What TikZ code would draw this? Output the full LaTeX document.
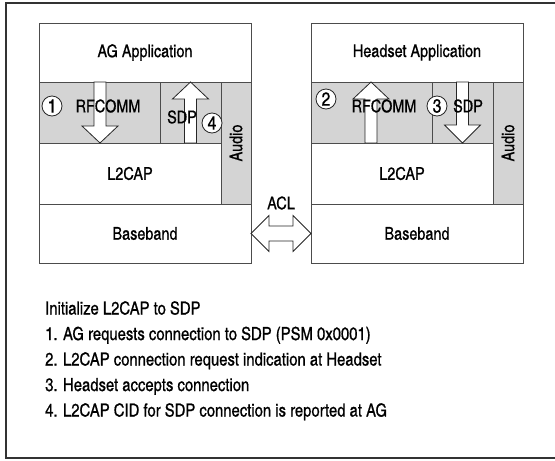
\documentclass[tikz,border=0pt]{standalone}
\usepackage{fontspec}
\setmainfont{texgyreheroscn-regular.otf}[BoldFont=texgyreheroscn-bold.otf, FakeBold=0.7]
\usetikzlibrary{calc}
\tikzset{
  layer/.style={draw=black!70, line width=0.9pt, fill=white, anchor=north west,
    inner sep=0pt, outer sep=0pt, font=\fontsize{17.6}{20}\selectfont},
  shaded/.style={layer, fill=black!17},
  lbl/.style={inner sep=0pt, font=\fontsize{17.6}{20}\selectfont},
  stepnum/.style={circle, draw=black!85, fill=white, line width=0.8pt,
    minimum size=20pt, inner sep=0pt, font=\fontsize{19}{20}\selectfont},
  blockarrow/.style={draw=black!85, fill=white, line width=0.8pt, line join=miter},
  frame/.style={draw=black!80, line width=1.5pt}
}
% x, start, head base, tip
\newcommand{\BlockArrow}[4]{%
  \draw[blockarrow] (#1-6,#2) -- (#1-6,#3) -- (#1-18,#3) -- (#1,#4)
    -- (#1+18,#3) -- (#1+6,#3) -- (#1+6,#2) -- cycle;
}
\begin{document}
\begin{tikzpicture}[x=1pt,y=-1pt]
\useasboundingbox (0,0) rectangle (555,461);
\draw[frame] (560,3) -- (6,3) -- (6,458) -- (560,458);

% AG side
\node[layer, minimum width=212pt, minimum height=59pt] (agapp) at (39,23) {AG Application};
\node[shaded, minimum width=121pt, minimum height=61pt] (agrfcomm) at (39,82) {};
\node[shaded, minimum width=61pt, minimum height=61pt] (agsdp) at (agrfcomm.north east) {};
\node[shaded, minimum width=30pt, minimum height=122pt] (agaudio) at (agsdp.north east) {};
\node[layer, minimum width=182pt, minimum height=61pt] (agl2cap) at (agrfcomm.south west) {L2CAP};
\node[layer, minimum width=212pt, minimum height=59pt] (agbase) at (agl2cap.south west) {Baseband};

% Headset side
\node[layer, minimum width=212pt, minimum height=59pt] (hsapp) at (311,23) {Headset Application};
\node[shaded, minimum width=121pt, minimum height=61pt] (hsrfcomm) at (311,82) {};
\node[shaded, minimum width=61pt, minimum height=61pt] (hssdp) at (hsrfcomm.north east) {};
\node[shaded, minimum width=30pt, minimum height=122pt] (hsaudio) at (hssdp.north east) {};
\node[layer, minimum width=182pt, minimum height=61pt] (hsl2cap) at (hsrfcomm.south west) {L2CAP};
\node[layer, minimum width=212pt, minimum height=59pt] (hsbase) at (hsl2cap.south west) {Baseband};

% flows
\BlockArrow{100}{82}{126}{143}
\BlockArrow{190.5}{143}{99}{82}
\BlockArrow{371}{143}{99}{82}
\BlockArrow{462.5}{82}{125}{143}

\node[lbl] (agrfcommtxt) at (108,106) {RFCOMM};
\node[lbl] (agsdptxt) at (182,117) {SDP};
\node[lbl, rotate=90] (agaudiotxt) at (agaudio.center) {Audio};
\node[lbl] (hsrfcommtxt) at (384,106) {RFCOMM};
\node[lbl] (hssdptxt) at (468,106) {SDP};
\node[lbl, rotate=90] (hsaudiotxt) at (hsaudio.center) {Audio};

\node[stepnum] (c1) at (52,106) {1};
\node[stepnum] (c2) at (326,99) {2};
\node[stepnum] (c3) at (437,106) {3};
\node[stepnum] (c4) at (212,123) {4};

% ACL link
\draw[blockarrow] (agbase.east) -- ++(18,-18) -- ++(0,10.5) -- ++(24,0) -- ++(0,-10.5)
  -- (hsbase.west) -- ++(-18,18) -- ++(0,-10.5) -- ++(-24,0) -- ++(0,10.5) -- cycle;
\node[lbl] (acl) at (281,203) {ACL};

\node[lbl, anchor=north west, align=left, font=\fontsize{18.1}{25.5}\selectfont] (steps) at (45,301)
  {Initialize L2CAP to SDP\\
   1. AG requests connection to SDP (PSM 0x0001)\\
   2. L2CAP connection request indication at Headset\\
   3. Headset accepts connection\\
   4. L2CAP CID for SDP connection is reported at AG};
\end{tikzpicture}
\end{document}
